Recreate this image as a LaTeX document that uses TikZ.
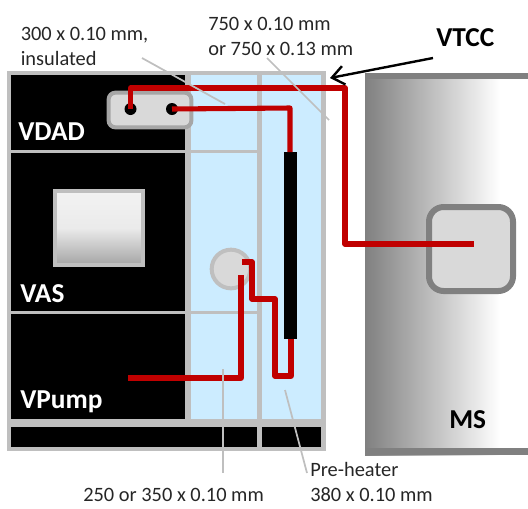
\documentclass[tikz,border=0pt]{standalone}
\usepackage{fontspec}
\setmainfont{Carlito}
\usetikzlibrary{arrows.meta}
\definecolor{pgray}{HTML}{BFBFBF}
\definecolor{dgray}{HTML}{808080}
\definecolor{lgray}{HTML}{D9D9D9}
\definecolor{pblue}{HTML}{CCECFF}
\definecolor{pred}{HTML}{C00000}
\tikzset{
  blk/.style={fill=black,draw=none},
  blu/.style={fill=pblue,draw=none},
  wall/.style={draw=pgray,line width=3.6pt},
  thin wall/.style={draw=pgray,line width=2.8pt},
  pipe/.style={draw=pred,line width=3.8pt,line join=round},
  leader/.style={draw=pgray,line width=1.3pt},
  lab/.style={font=\fontsize{15.3pt}{19pt}\selectfont,text=black!85,inner sep=0pt,align=left},
  wlab/.style={font=\fontsize{20.5pt}{24pt}\selectfont\bfseries,text=white,inner sep=0pt,anchor=west},
  hole/.style={circle,fill=black,draw=none,minimum size=9pt,inner sep=0pt}
}
\begin{document}
\begin{tikzpicture}[x=0.75pt,y=-0.75pt]
\useasboundingbox (0,0) rectangle (528,508);
% regions
\fill[blu] (186,71) rectangle (324,423);
\fill[blk] (10,73) rectangle (186,425);
\fill[blk] (10,423) rectangle (324,449);
% walls
\draw[wall] (9,73) rectangle (323.5,449);
\draw[thin wall] (9,151.5) -- (259,151.5);
\draw[thin wall] (9,312.5) -- (259,312.5);
\draw[wall,line width=5.5pt] (9,423) -- (323,423);
\draw[wall,line width=3.8pt] (188,73) -- (188,423);
\draw[wall,line width=4.4pt] (259.5,73) -- (259.5,449);
% MS
\shade[left color=dgray,right color=white,middle color=black!25,shading angle=90,draw=none] (365,73) rectangle (500,455);
\fill[dgray] (365,73) rectangle (528,79);
\fill[dgray] (365,448) rectangle (528,455);
\node[anchor=west,inner sep=0pt,font=\fontsize{20.5pt}{24pt}\selectfont\bfseries,text=black] (ms) at (449,420) {MS};
\node[draw=dgray,fill=lgray,line width=4.5pt,rounded corners=11pt,minimum width=63pt,minimum height=63pt,inner sep=0pt] (port) at (471,249) {};
% VAS box
\node[draw=pgray,line width=3pt,minimum width=66pt,minimum height=55pt,inner sep=0pt,top color=black!5,bottom color=black!35,middle color=black!8] (vas) at (99,228) {};
% circle
\node[circle,draw=pgray,fill=lgray,line width=3pt,minimum size=29pt,inner sep=0pt] (ball) at (231,269) {};
% valve box
\node[draw=black!35,fill=lgray,line width=3pt,rounded corners=5pt,minimum width=62pt,minimum height=26pt,inner sep=0pt] (valve) at (150,110) {};
\node[hole] (h1) at (130.5,109) {};
\node[hole] (h2) at (172,109) {};
% preheater
\node[blk,minimum width=9.5pt,minimum height=140pt,inner sep=0pt] (heater) at (290.5,245.5) {};
% coordinates
\coordinate (ionend) at (474,244);
\coordinate (pumpend) at (128,378);
\coordinate (ballA) at (241,275);
\coordinate (ballB) at (242,262);
% pipes
\draw[pipe] (h1.center) -- (130.5,88) -- (345,88) -- (345,244) -- (ionend);
\draw[pipe] (h2.center) -- (290,108) -- (290,152);
\draw[pipe] (pumpend) -- (241,378) -- (ballA);
\draw[pipe] (ballB) -- (252,262) -- (252,299) -- (275,299) -- (275,376) -- (291,376) -- (291,339);
% labels
\node[wlab] (vdad) at (18,132) {VDAD};
\node[wlab] (vaslab) at (20,294) {VAS};
\node[wlab] (vpump) at (20,402) {VPump};
\node[lab,anchor=north west] (t300) at (20.5,26.5) {300 x 0.10 mm,\\insulated};
\node[lab,anchor=north west] (t750) at (208,17) {750 x 0.10 mm\\or 750 x 0.13 mm};
\node[lab,anchor=west] (t250) at (83,495) {250 or 350 x 0.10 mm};
\node[lab,anchor=north west] (tpre) at (310,462) {Pre-heater\\380 x 0.10 mm};
\node[anchor=west,inner sep=0pt,font=\fontsize{20.5pt}{24pt}\selectfont\bfseries] (vtcc) at (436,38) {VTCC};
% leaders
\coordinate (a1) at (225,104);
\coordinate (a2) at (329,120);
\coordinate (a3) at (223,369);
\coordinate (a4) at (285,390);
\draw[leader] (142,58) -- (a1);
\draw[leader] (267,58) -- (a2);
\draw[leader] (a3) -- (223,473);
\draw[leader] (a4) -- (307,473);
% arrow
\coordinate (vt) at (330,78);
\draw[line width=1.8pt,-{Straight Barb[length=9pt,width=14pt]}] (433,58) -- (vt);
\end{tikzpicture}
\end{document}
